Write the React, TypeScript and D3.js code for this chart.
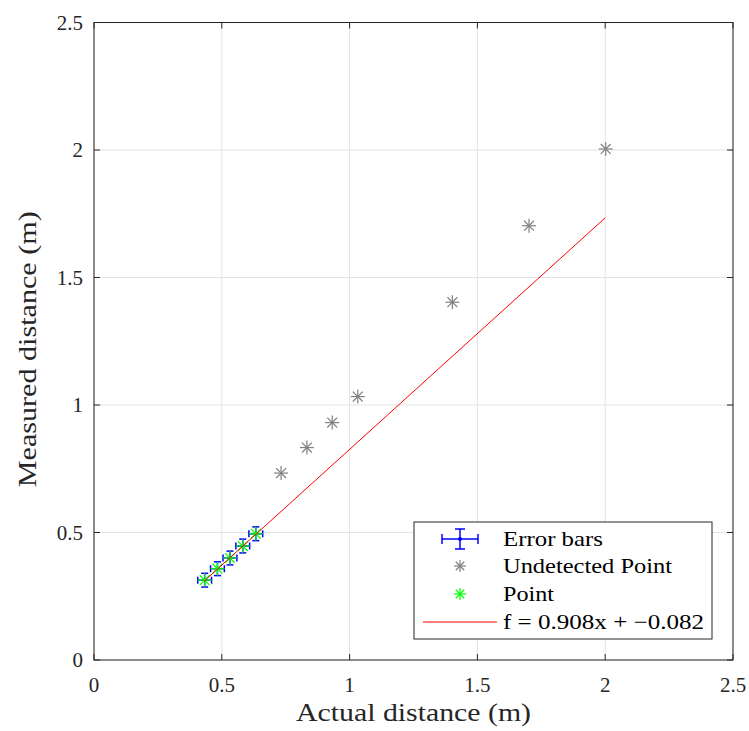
import React, { useEffect, useRef } from 'react';
import * as d3 from 'd3';

// detected points (with error bars)
const pointX = [0.433, 0.483, 0.532, 0.582, 0.633];
const pointY = [0.313, 0.358, 0.4, 0.447, 0.495];
const errX = [0.027, 0.027, 0.027, 0.027, 0.027];
const errY = [0.027, 0.027, 0.027, 0.027, 0.027];

// undetected points
const undetX = [0.732, 0.833, 0.932, 1.032, 1.402, 1.702, 2.002];
const undetY = [0.733, 0.833, 0.931, 1.033, 1.403, 1.703, 2.004];

const fitSlope = 0.908;
const fitIntercept = -0.082;
const fitRange = [0.43, 2.0];

const ticks = [0, 0.5, 1, 1.5, 2, 2.5];
const tickLabels = ['0', '0.5', '1', '1.5', '2', '2.5'];

const legendLabels = ['Error bars', 'Undetected Point', 'Point', 'f = 0.908x + \u22120.082'];
const legendWidths = [100, 169, 51, 201];

const FONT = '"Liberation Serif", "DejaVu Serif", serif';

const App = () => {
    const ref = useRef<SVGSVGElement>(null);

    useEffect(() => {
        const svg = d3.select(ref.current);
        svg.selectAll('*').remove();

        const left = 94, right = 733, top = 22.5, bottom = 660;
        const x = d3.scaleLinear().domain([0, 2.5]).range([left, right]);
        const y = d3.scaleLinear().domain([0, 2.5]).range([bottom, top]);

        const g = svg.append('g');

        // grid
        ticks.forEach(t => {
            g.append('line').attr('x1', x(t)).attr('x2', x(t)).attr('y1', top).attr('y2', bottom)
                .attr('stroke', '#e3e3e3').attr('stroke-width', 1);
            g.append('line').attr('y1', y(t)).attr('y2', y(t)).attr('x1', left).attr('x2', right)
                .attr('stroke', '#e3e3e3').attr('stroke-width', 1);
        });

        // axes box
        g.append('rect').attr('x', left).attr('y', top).attr('width', right - left).attr('height', bottom - top)
            .attr('fill', 'none').attr('stroke', '#262626').attr('stroke-width', 1);

        // ticks (inside)
        const tl = 6;
        ticks.forEach((t, i) => {
            g.append('line').attr('x1', x(t)).attr('x2', x(t)).attr('y1', bottom).attr('y2', bottom - tl).attr('stroke', '#262626');
            g.append('line').attr('x1', x(t)).attr('x2', x(t)).attr('y1', top).attr('y2', top + tl).attr('stroke', '#262626');
            g.append('line').attr('y1', y(t)).attr('y2', y(t)).attr('x1', left).attr('x2', left + tl).attr('stroke', '#262626');
            g.append('line').attr('y1', y(t)).attr('y2', y(t)).attr('x1', right).attr('x2', right - tl).attr('stroke', '#262626');
            g.append('text').attr('x', x(t)).attr('y', bottom + 32).attr('text-anchor', 'middle')
                .attr('font-family', FONT).attr('font-size', 21).attr('fill', '#262626').text(tickLabels[i]);
            g.append('text').attr('x', left - 11).attr('y', y(t) + 7).attr('text-anchor', 'end')
                .attr('font-family', FONT).attr('font-size', 21).attr('fill', '#262626').text(tickLabels[i]);
        });

        // axis labels
        g.append('text').attr('x', (left + right) / 2).attr('y', 721).attr('text-anchor', 'middle')
            .attr('font-family', FONT).attr('font-size', 25).attr('fill', '#262626')
            .attr('textLength', 235).attr('lengthAdjust', 'spacingAndGlyphs').text('Actual distance (m)');
        g.append('text').attr('transform', `translate(36,${(top + bottom) / 2 + 8}) rotate(-90)`).attr('text-anchor', 'middle')
            .attr('font-family', FONT).attr('font-size', 25).attr('fill', '#262626')
            .attr('textLength', 276).attr('lengthAdjust', 'spacingAndGlyphs').text('Measured distance (m)');

        const star = (sel, cx, cy, r, color) => {
            const s = sel.append('g').attr('transform', `translate(${cx},${cy})`)
                .attr('stroke', color).attr('stroke-width', 1.2);
            [0, 45, 90, 135].forEach(a => {
                const rad = a * Math.PI / 180;
                s.append('line').attr('x1', -r * Math.cos(rad)).attr('y1', -r * Math.sin(rad))
                    .attr('x2', r * Math.cos(rad)).attr('y2', r * Math.sin(rad));
            });
        };

        const errorBar = (sel, cx, cy, ex, ey) => {
            const e = sel.append('g').attr('stroke', '#0000ff').attr('stroke-width', 1.5);
            const cap = 3.5;
            e.append('line').attr('x1', x(cx - ex)).attr('x2', x(cx + ex)).attr('y1', y(cy)).attr('y2', y(cy));
            e.append('line').attr('x1', x(cx)).attr('x2', x(cx)).attr('y1', y(cy - ey)).attr('y2', y(cy + ey));
            e.append('line').attr('x1', x(cx - ex)).attr('x2', x(cx - ex)).attr('y1', y(cy) - cap).attr('y2', y(cy) + cap);
            e.append('line').attr('x1', x(cx + ex)).attr('x2', x(cx + ex)).attr('y1', y(cy) - cap).attr('y2', y(cy) + cap);
            e.append('line').attr('y1', y(cy - ey)).attr('y2', y(cy - ey)).attr('x1', x(cx) - cap).attr('x2', x(cx) + cap);
            e.append('line').attr('y1', y(cy + ey)).attr('y2', y(cy + ey)).attr('x1', x(cx) - cap).attr('x2', x(cx) + cap);
        };

        // error bars
        pointX.forEach((px, i) => errorBar(g, px, pointY[i], errX[i], errY[i]));

        // undetected points
        undetX.forEach((ux, i) => star(g, x(ux), y(undetY[i]), 7, '#808080'));

        // detected points
        pointX.forEach((px, i) => star(g, x(px), y(pointY[i]), 7, '#00ff00'));

        // fit line
        const line = d3.line<number>().x(d => x(d)).y(d => y(fitSlope * d + fitIntercept));
        g.append('path').datum(fitRange).attr('d', line).attr('fill', 'none')
            .attr('stroke', '#ff0000').attr('stroke-width', 1);

        // legend
        const lg = g.append('g');
        lg.append('rect').attr('x', 414).attr('y', 522).attr('width', 298).attr('height', 117)
            .attr('fill', '#ffffff').attr('stroke', '#262626').attr('stroke-width', 1);
        const rows = [539, 566, 594, 622];
        const sx = 460;
        // error bar sample
        const eb = lg.append('g').attr('stroke', '#0000ff').attr('stroke-width', 1.5);
        eb.append('line').attr('x1', sx - 18).attr('x2', sx + 18).attr('y1', rows[0]).attr('y2', rows[0]);
        eb.append('line').attr('x1', sx).attr('x2', sx).attr('y1', rows[0] - 10).attr('y2', rows[0] + 10);
        eb.append('line').attr('x1', sx - 18).attr('x2', sx - 18).attr('y1', rows[0] - 5).attr('y2', rows[0] + 5);
        eb.append('line').attr('x1', sx + 18).attr('x2', sx + 18).attr('y1', rows[0] - 5).attr('y2', rows[0] + 5);
        eb.append('line').attr('x1', sx - 5).attr('x2', sx + 5).attr('y1', rows[0] - 10).attr('y2', rows[0] - 10);
        eb.append('line').attr('x1', sx - 5).attr('x2', sx + 5).attr('y1', rows[0] + 10).attr('y2', rows[0] + 10);
        lg.append('circle').attr('cx', sx).attr('cy', rows[0]).attr('r', 2).attr('fill', '#0000ff');
        star(lg, sx, rows[1], 6, '#808080');
        star(lg, sx, rows[2], 6, '#00ff00');
        lg.append('line').attr('x1', 423).attr('x2', 497).attr('y1', rows[3]).attr('y2', rows[3])
            .attr('stroke', '#ff0000').attr('stroke-width', 1);
        legendLabels.forEach((l, i) => {
            lg.append('text').attr('x', 503).attr('y', rows[i] + 7).attr('font-family', FONT)
                .attr('font-size', 21).attr('fill', '#000000')
                .attr('textLength', legendWidths[i]).attr('lengthAdjust', 'spacingAndGlyphs').text(l);
        });
    }, []);

    return <svg ref={ref} width={749} height={731} style={{ position: 'absolute', left: 0, top: 0 }} />;
};

export default App;
